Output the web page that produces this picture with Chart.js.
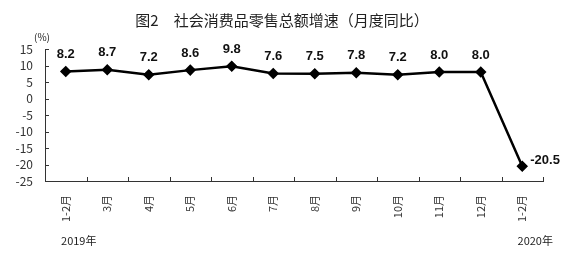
<!DOCTYPE html>
<html>
<head>
<meta charset="utf-8">
<script src="https://cdn.jsdelivr.net/npm/chart.js@4"></script>
<style>
  body { margin: 0; background: #fff; }
  canvas { display: block; }
</style>
</head>
<body>
<canvas id="chart" width="565" height="255"></canvas>
<script>
const months = ['1-2月', '3月', '4月', '5月', '6月', '7月', '8月', '9月', '10月', '11月', '12月', '1-2月'];
const growth = [8.2, 8.7, 7.2, 8.6, 9.8, 7.6, 7.5, 7.8, 7.2, 8.0, 8.0, -20.5];
const years = ['2019年', '', '', '', '', '', '', '', '', '', '', '2020年'];
const title = '图2　社会消费品零售总额增速（月度同比）';
const unit = '(%)';

const cjk = '"Noto Sans CJK SC", "DejaVu Sans", sans-serif';

const extras = {
    id: 'extras',
    afterDraw: (chart) => {
        const ctx = chart.ctx;
        const area = chart.chartArea;
        const x = chart.scales.x;
        const y = chart.scales.y;
        ctx.save();

        // title + unit
        ctx.fillStyle = '#222';
        ctx.font = '15px ' + cjk;
        ctx.textAlign = 'center';
        ctx.textBaseline = 'middle';
        ctx.fillText(title, 282, 20);
        ctx.font = '10px ' + cjk;
        ctx.fillText(unit, 42, 37);

        // inward ticks
        ctx.strokeStyle = '#333';
        ctx.lineWidth = 1;
        ctx.beginPath();
        for (let i = 0; i <= months.length; i++) {
            const px = Math.round(area.left + (area.right - area.left) * i / months.length) + 0.5;
            ctx.moveTo(px, area.bottom);
            ctx.lineTo(px, area.bottom - 4);
        }
        y.ticks.forEach((t, i) => {
            const py = Math.round(y.getPixelForTick(i)) + 0.5;
            ctx.moveTo(area.left, py);
            ctx.lineTo(area.left + 4, py);
        });
        ctx.stroke();

        // value labels
        const meta = chart.getDatasetMeta(0);
        ctx.font = 'bold 13px "Liberation Sans", Arial, sans-serif';
        ctx.fillStyle = '#111';
        meta.data.forEach((pt, i) => {
            const v = growth[i];
            const txt = v.toFixed(1);
            if (v < 0) {
                ctx.textAlign = 'left';
                ctx.fillText(txt, pt.x + 8, pt.y - 6);
            } else {
                ctx.textAlign = 'center';
                ctx.fillText(txt, pt.x, pt.y - 17);
            }
        });

        // years
        ctx.font = '11px ' + cjk;
        ctx.fillStyle = '#222';
        ctx.textAlign = 'center';
        years.forEach((yr, i) => {
            if (yr) ctx.fillText(yr, x.getPixelForValue(i) + 13, 241);
        });
        ctx.restore();
    }
};

new Chart(document.getElementById('chart'), {
    type: 'line',
    data: {
        labels: months,
        datasets: [{
            data: growth,
            borderColor: '#000',
            backgroundColor: '#000',
            borderWidth: 2.5,
            pointStyle: 'rectRot',
            pointRadius: 4,
            tension: 0
        }]
    },
    options: {
        responsive: false,
        animation: false,
        layout: { padding: { left: 0, right: 22, top: 49, bottom: 0 } },
        plugins: { legend: { display: false }, tooltip: { enabled: false } },
        scales: {
            x: {
                offset: true,
                afterFit: (scale) => { scale.height = 74; },
                grid: { display: false, drawTicks: false },
                border: { display: true, color: '#333', width: 1 },
                ticks: {
                    maxRotation: 90,
                    minRotation: 90,
                    autoSkip: false,
                    padding: 14,
                    color: '#333',
                    font: { size: 11, family: cjk }
                }
            },
            y: {
                min: -25,
                max: 15,
                afterFit: (scale) => { scale.width = 45; },
                grid: { display: false, drawTicks: false },
                border: { display: true, color: '#333', width: 1 },
                ticks: {
                    stepSize: 5,
                    autoSkip: false,
                    padding: 12,
                    color: '#333',
                    font: { size: 12, family: cjk }
                }
            }
        }
    },
    plugins: [extras]
});
</script>
</body>
</html>
